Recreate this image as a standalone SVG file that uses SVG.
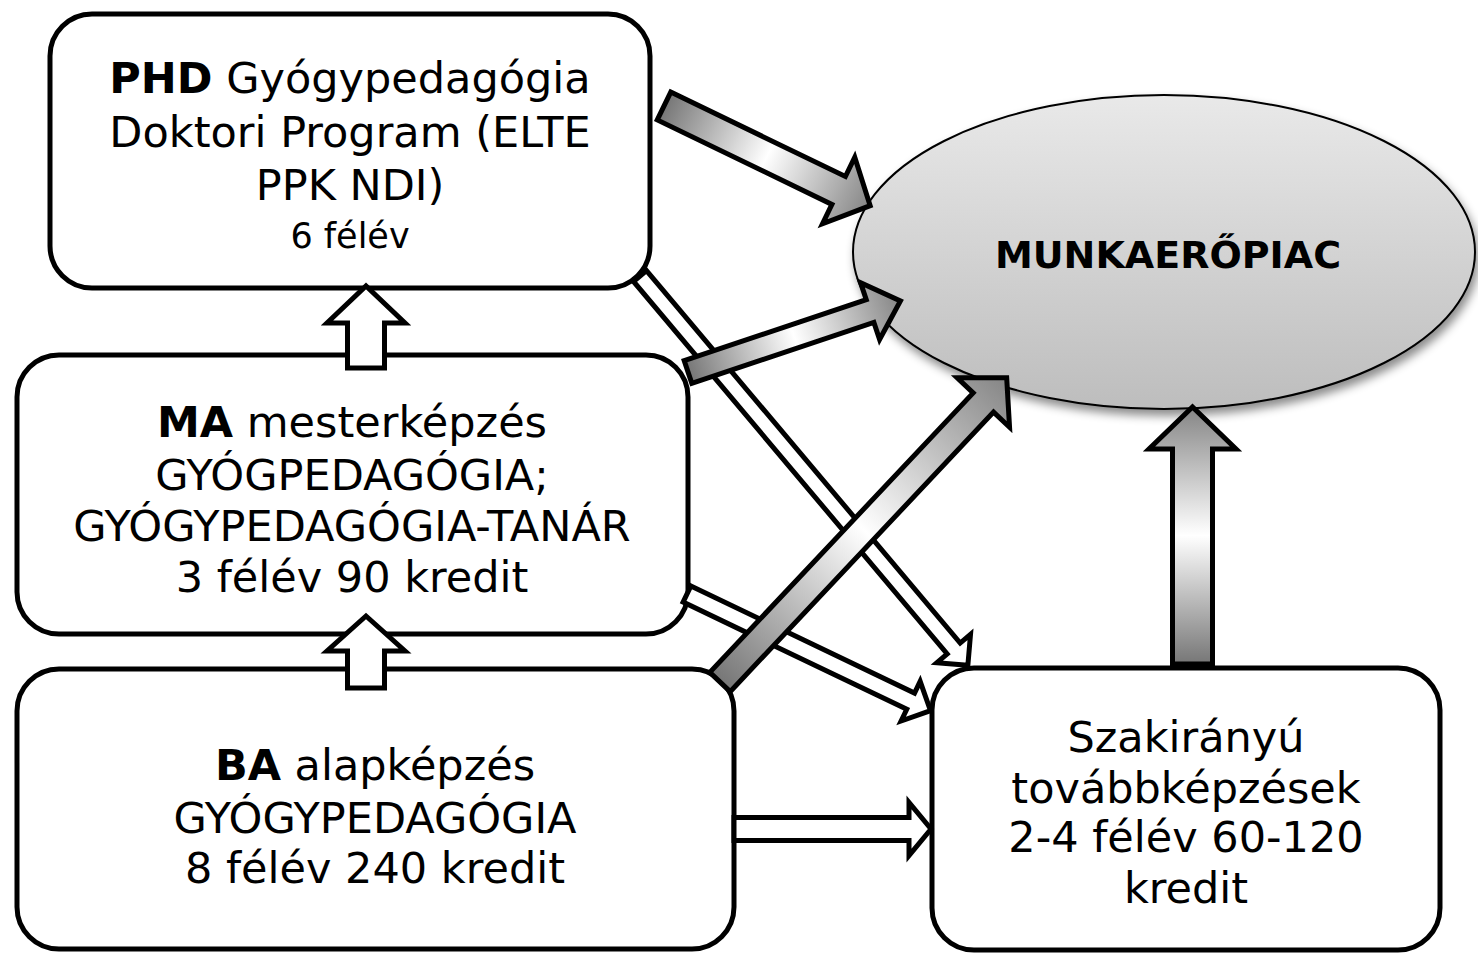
<svg xmlns="http://www.w3.org/2000/svg" width="1478" height="957" viewBox="0 0 1478 957">
<defs>
<style>
.box{fill:#fff;stroke:#000;stroke-width:5}
.t{font-family:"DejaVu Sans","Verdana",sans-serif;font-size:43px;fill:#000;text-anchor:middle}
.b{font-weight:bold}
.sm{font-size:35px}
.hollow{fill:#fff;stroke:#000;stroke-width:5;stroke-linejoin:miter;stroke-miterlimit:10}
.grad{fill:url(#ag);stroke:#000;stroke-width:5;stroke-linejoin:miter;stroke-miterlimit:10}
</style>
<linearGradient id="ag" x1="0" y1="0" x2="1" y2="0">
<stop offset="0" stop-color="#767676"/>
<stop offset="0.5" stop-color="#ffffff"/>
<stop offset="1" stop-color="#858585"/>
</linearGradient>
<linearGradient id="eg" x1="0" y1="0" x2="0" y2="1">
<stop offset="0" stop-color="#e9e9e9"/>
<stop offset="1" stop-color="#bdbdbd"/>
</linearGradient>
<filter id="sh" x="-10%" y="-10%" width="125%" height="130%">
<feDropShadow dx="3" dy="6" stdDeviation="5" flood-color="#000" flood-opacity="0.45"/>
</filter>
</defs>
<rect width="1478" height="957" fill="#fff"/>

<g id="munkaeropiac">
<ellipse cx="1164" cy="252" rx="311" ry="157" fill="url(#eg)" stroke="#000" stroke-width="2" filter="url(#sh)"/>
<text class="t b" x="1168" y="268" style="font-size:38px">MUNKAERŐPIAC</text>
</g>

<g id="phd">
<rect class="box" x="50" y="14" width="600" height="274" rx="42"/>
<text class="t" x="350" y="93"><tspan class="b">PHD</tspan> Gyógypedagógia</text>
<text class="t" x="350" y="147">Doktori Program (ELTE</text>
<text class="t" x="350" y="200">PPK NDI)</text>
<text class="t sm" x="350" y="248">6 félév</text>
</g>

<g id="ma">
<rect class="box" x="17" y="355" width="671" height="279" rx="42"/>
<text class="t" x="352" y="437"><tspan class="b">MA</tspan> mesterképzés</text>
<text class="t" x="352" y="490">GYÓGPEDAGÓGIA;</text>
<text class="t" x="352" y="541">GYÓGYPEDAGÓGIA-TANÁR</text>
<text class="t" x="352" y="592">3 félév 90 kredit</text>
</g>

<g id="ba">
<rect class="box" x="17" y="669" width="717" height="280" rx="42"/>
<text class="t" x="375" y="780"><tspan class="b">BA</tspan> alapképzés</text>
<text class="t" x="375" y="833">GYÓGYPEDAGÓGIA</text>
<text class="t" x="375" y="883">8 félév 240 kredit</text>
</g>

<g id="szakiranyu">
<rect class="box" x="932" y="668" width="508" height="282" rx="42"/>
<text class="t" x="1186" y="752">Szakirányú</text>
<text class="t" x="1186" y="803">továbbképzések</text>
<text class="t" x="1186" y="852">2-4 félév 60-120</text>
<text class="t" x="1186" y="903">kredit</text>
</g>

<g id="connectors">
<!-- hollow arrows -->
<path class="hollow" transform="translate(640,276) rotate(49.9)" d="M0,-8.5 H487 V-22 L509,0 L487,22 V8.5 H0 Z"/>
<path class="hollow" transform="translate(687,594) rotate(25.6)" d="M0,-9 H248 V-22 L270,0 L248,22 V9 H0 Z"/>
<path class="hollow" d="M734,817.5 H909 V802.5 L931,829 L909,855.5 V840.5 H734 Z"/>
<path class="hollow" d="M347.5,368 V323 H327 L366,286 L405,323 H384.5 V368 Z"/>
<path class="hollow" d="M347.5,688 V651 H327 L366,616 L405,651 H384.5 V688 Z"/>
<!-- gradient arrows -->
<path class="grad" transform="translate(664,106) rotate(25.8)" d="M0,-15.5 H194 V-37 L229,0 L194,37 V15.5 H0 Z"/>
<path class="grad" transform="translate(688,372) rotate(-18.5)" d="M0,-12 H192 V-30 L224,0 L192,30 V12 H0 Z"/>
<path class="grad" transform="translate(720,682) rotate(-46.7)" d="M0,-14 H384 V-36 L418,0 L384,36 V14 H0 Z"/>
<path class="grad" transform="translate(1192.5,664) rotate(-90)" d="M0,-20 H215 V-43.5 L257,0 L215,43.5 V20 H0 Z"/>
</g>
</svg>
